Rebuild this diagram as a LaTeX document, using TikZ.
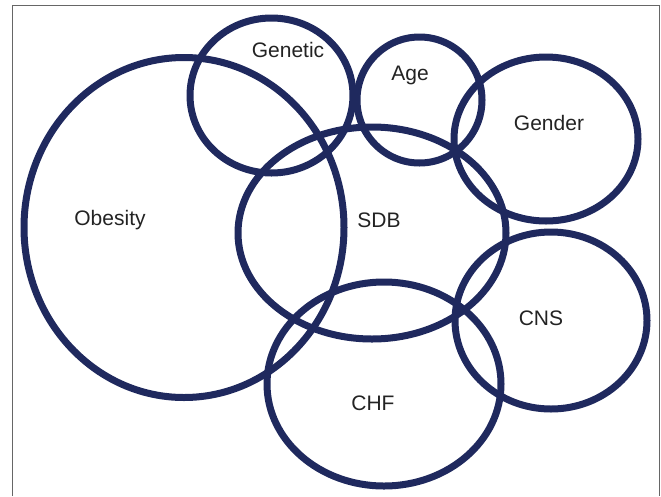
\documentclass[tikz,border=0pt]{standalone}
\usepackage{fontspec}
\setmainfont{Liberation Sans}
\definecolor{ringblue}{RGB}{31,41,94}
\definecolor{labelgray}{RGB}{35,35,35}
\begin{document}
\begin{tikzpicture}[
        x=1pt, y=-1pt, % Координаты в пикселях
        ring/.style = {draw=ringblue, line width=7pt}, % Стиль кругов
        tag/.style = {text=labelgray, inner sep=0pt, font=\fontsize{21}{25}\selectfont}, % Стиль подписей
        frame/.style = {draw=black!60, line width=1pt},
    ]
    \useasboundingbox (0,0) rectangle (661,496);
    \draw[frame] (12,496) -- (12,5) -- (659,5) -- (659,496);

    \draw[ring] (184,227.5) ellipse [x radius=160pt, y radius=170pt]; % Obesity
    \draw[ring] (271.5,95.5) ellipse [x radius=81.5pt, y radius=77.5pt]; % Genetic
    \draw[ring] (419.5,100) ellipse [x radius=62.5pt, y radius=63pt]; % Age
    \draw[ring] (546,139) ellipse [x radius=92pt, y radius=82pt]; % Gender
    \draw[ring] (372,233) ellipse [x radius=134pt, y radius=106pt]; % SDB
    \draw[ring] (551,320.5) ellipse [x radius=96pt, y radius=88.5pt]; % CNS
    \draw[ring] (384,384) ellipse [x radius=117pt, y radius=102pt]; % CHF

    \node[tag] (genetic) at (288,50) {Genetic};
    \node[tag] (age) at (410,75) {Age};
    \node[tag] (gender) at (549,123) {Gender};
    \node[tag] (obesity) at (110,220) {Obesity};
    \node[tag] (sdb) at (379,220) {SDB};
    \node[tag] (cns) at (541,318) {CNS};
    \node[tag] (chf) at (373,403) {CHF};
\end{tikzpicture}
\end{document}
